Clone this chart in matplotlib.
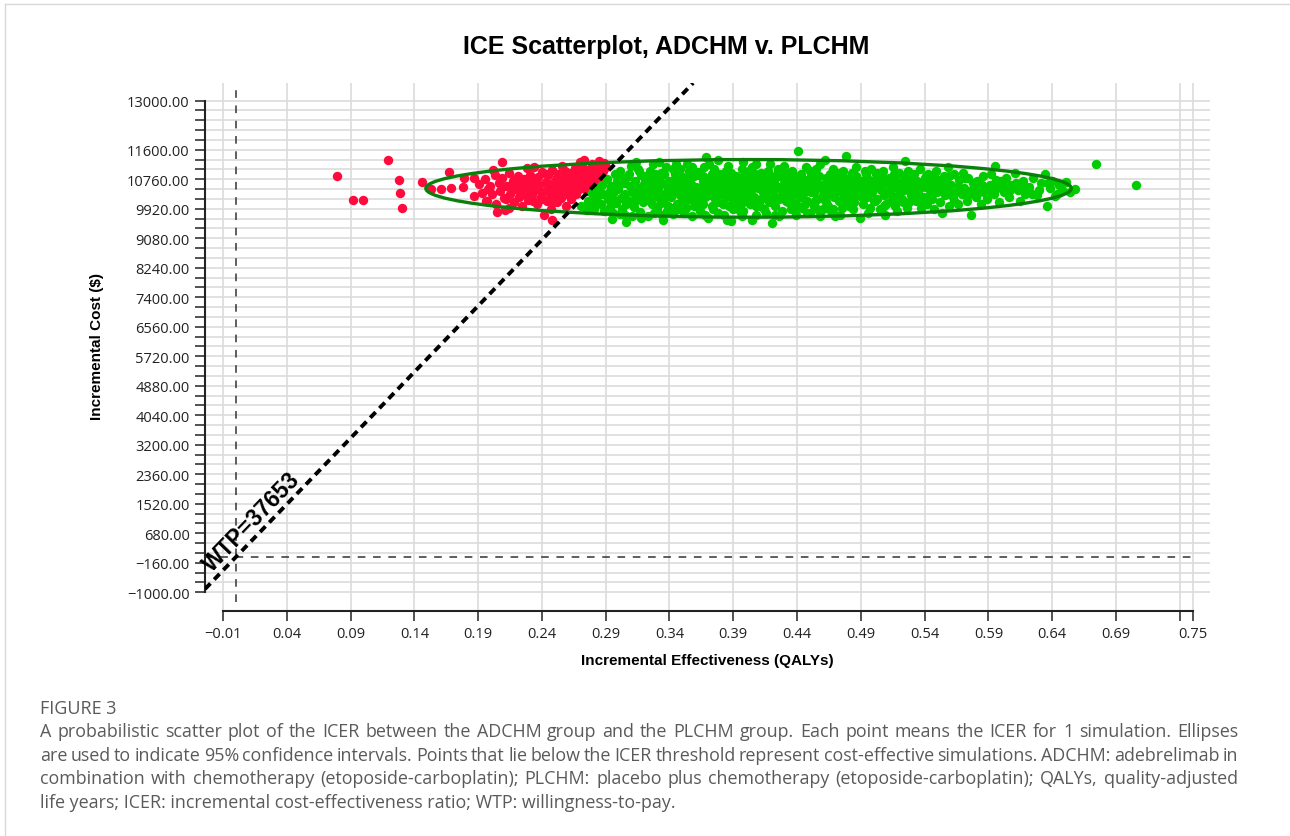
import matplotlib.pyplot as plt
import numpy as np
from matplotlib.patches import Ellipse
from matplotlib.lines import Line2D

# === Simulation results (QALY, cost $) ===
# not cost-effective simulations (above the WTP line)
red_pts = [
    (0.079, 10850), (0.092, 10170), (0.100, 10160), (0.119, 11300), (0.128, 10730),
    (0.129, 10370), (0.130, 9940), (0.146, 10690), (0.153, 10470), (0.161, 10480),
    (0.167, 10980), (0.169, 10520), (0.178, 10530), (0.179, 10800), (0.187, 10790),
    (0.187, 10290), (0.197, 10140), (0.198, 10490), (0.202, 11010), (0.209, 11260),
    (0.205, 9840), (0.214, 9940),
    (0.191, 10620), (0.193, 10380), (0.195, 10760), (0.196, 10150), (0.199, 10560),
    (0.201, 10330), (0.203, 10880), (0.204, 10050), (0.206, 10650), (0.207, 10420),
    (0.209, 10790), (0.210, 10240), (0.211, 9880), (0.212, 10560), (0.214, 10950),
    (0.215, 10350), (0.217, 10700), (0.218, 10120), (0.219, 10480), (0.221, 10860),
    (0.222, 10250), (0.223, 10600), (0.224, 9990), (0.226, 10770), (0.227, 10400),
    (0.228, 11080), (0.229, 10180), (0.230, 10560), (0.231, 10880), (0.232, 10320),
    (0.233, 10700), (0.234, 11100), (0.235, 10470), (0.236, 10060), (0.237, 10820),
    (0.238, 10590), (0.239, 10250), (0.240, 10960), (0.241, 10390), (0.242, 9750),
    (0.243, 10680), (0.244, 10150), (0.245, 10870), (0.246, 10520), (0.247, 9920),
    (0.248, 9600), (0.248, 11020), (0.249, 10300), (0.250, 10720), (0.251, 10440),
    (0.252, 10100), (0.253, 10900), (0.254, 10600), (0.255, 10230), (0.256, 11150),
    (0.257, 10790), (0.258, 10380), (0.259, 10010), (0.260, 10680), (0.261, 10950),
    (0.262, 10500), (0.263, 10200), (0.264, 10830), (0.265, 10620), (0.266, 11080),
    (0.267, 10350), (0.268, 10740), (0.269, 10480), (0.270, 11240), (0.271, 10900),
    (0.272, 10600), (0.273, 11320), (0.274, 10770), (0.275, 10420), (0.276, 11010),
    (0.277, 10650), (0.278, 10880), (0.279, 11180), (0.280, 10560), (0.281, 10790),
    (0.282, 11090), (0.283, 10700), (0.284, 10950), (0.285, 11280), (0.286, 10830),
    (0.287, 11150), (0.288, 11000), (0.289, 11220), (0.290, 11100),
    (0.229, 10730), (0.236, 10620), (0.244, 10440), (0.247, 10260), (0.252, 10830),
    (0.257, 10550), (0.261, 10300), (0.266, 10800), (0.269, 10620), (0.273, 10950),
    (0.258, 11000), (0.263, 10420), (0.240, 10200), (0.255, 10680), (0.271, 10520),
    (0.278, 10640), (0.245, 10620), (0.232, 10480), (0.225, 10330), (0.219, 10780),
    (0.249, 10110), (0.254, 10360),
    (0.243, 10900), (0.246, 10350), (0.251, 10600), (0.253, 10250), (0.256, 10460),
    (0.259, 10850), (0.262, 10700), (0.264, 10420), (0.267, 10950), (0.270, 10750),
    (0.272, 11080), (0.274, 10560), (0.276, 10850), (0.279, 10950), (0.281, 11000),
    (0.238, 10450), (0.235, 10780), (0.233, 10150), (0.227, 10600), (0.221, 10450),
    (0.216, 10600), (0.212, 10200),
]

# cost-effective simulations (below the WTP line)
green_pts = [
    (0.271, 10010), (0.278, 9960), (0.276, 10150), (0.279, 10380), (0.275, 9870),
    (0.281, 9920), (0.283, 10250), (0.284, 10480), (0.286, 10060), (0.287, 10610),
    (0.289, 9850), (0.282, 10130), (0.288, 10350),
    (0.291, 10780), (0.292, 10200), (0.293, 9980), (0.294, 10560), (0.295, 9640),
    (0.296, 10380), (0.297, 10900), (0.298, 10090), (0.299, 10700), (0.296, 9800),
    (0.300, 10480), (0.301, 11000), (0.302, 10230), (0.303, 9900), (0.304, 10640),
    (0.305, 10350), (0.306, 9540), (0.307, 10820), (0.308, 10130), (0.309, 10560),
    (0.310, 11150), (0.305, 9750),
    (0.311, 10400), (0.312, 9960), (0.313, 10700), (0.314, 10250), (0.315, 11050),
    (0.316, 10520), (0.317, 9830), (0.318, 10880), (0.319, 10100), (0.320, 10620),
    (0.314, 11250), (0.318, 10350),
    (0.321, 10780), (0.322, 10200), (0.323, 9700), (0.324, 10450), (0.325, 11000),
    (0.326, 10050), (0.327, 10680), (0.328, 10300), (0.329, 10900), (0.330, 9900),
    (0.322, 10560), (0.327, 11200), (0.325, 10150),
    (0.331, 10520), (0.332, 10800), (0.333, 10080), (0.334, 10650), (0.335, 9600),
    (0.336, 10350), (0.337, 11100), (0.338, 9850), (0.339, 10450), (0.340, 10720),
    (0.333, 10950), (0.336, 10200), (0.339, 10000), (0.332, 11250),
    (0.341, 10250), (0.342, 10600), (0.343, 9780), (0.344, 10900), (0.345, 10400),
    (0.346, 10050), (0.347, 10750), (0.348, 11050), (0.349, 10550), (0.350, 10150),
    (0.343, 10480), (0.347, 9900), (0.349, 10850), (0.345, 11200), (0.341, 10700),
    (0.351, 10350), (0.352, 10700), (0.353, 9950), (0.354, 10500), (0.355, 11000),
    (0.356, 10200), (0.357, 10620), (0.358, 9700), (0.359, 10850), (0.360, 10420),
    (0.352, 10100), (0.355, 10780), (0.358, 10300), (0.354, 11200), (0.359, 10000),
    (0.356, 10950),
    (0.361, 10550), (0.362, 10150), (0.363, 10880), (0.364, 9850), (0.365, 10400),
    (0.366, 10700), (0.367, 11100), (0.368, 10250), (0.369, 10600), (0.370, 9650),
    (0.362, 10980), (0.364, 10350), (0.366, 10050), (0.368, 10800), (0.369, 11380),
    (0.363, 10500), (0.367, 10450),
    (0.371, 10300), (0.372, 10750), (0.373, 10000), (0.374, 10550), (0.375, 11050),
    (0.376, 10200), (0.377, 10650), (0.378, 9800), (0.379, 10900), (0.380, 10400),
    (0.372, 10500), (0.374, 9900), (0.376, 10850), (0.378, 10100), (0.371, 11200),
    (0.379, 10600), (0.375, 10350),
    (0.381, 10700), (0.382, 10050), (0.383, 10500), (0.384, 11000), (0.385, 9600),
    (0.386, 10300), (0.387, 10800), (0.388, 9580), (0.389, 10450), (0.390, 10150),
    (0.382, 10900), (0.384, 10250), (0.386, 11150), (0.388, 10650), (0.390, 9900),
    (0.383, 10600), (0.387, 10000),
    (0.391, 10550), (0.392, 10850), (0.393, 10200), (0.394, 10700), (0.395, 9850),
    (0.396, 10400), (0.397, 11050), (0.398, 10100), (0.399, 10600), (0.400, 10950),
    (0.392, 10350), (0.394, 9950), (0.396, 10800), (0.398, 11250), (0.393, 10500),
    (0.399, 10250), (0.397, 9700),
    (0.401, 10450), (0.402, 10750), (0.403, 10050), (0.404, 10600), (0.405, 11100),
    (0.406, 10250), (0.407, 10900), (0.408, 9750), (0.409, 10500), (0.410, 10150),
    (0.402, 11000), (0.404, 10350), (0.406, 10700), (0.408, 10000), (0.410, 10800),
    (0.405, 9600),
    (0.411, 10550), (0.412, 10200), (0.413, 10850), (0.414, 9900), (0.415, 10450),
    (0.416, 10650), (0.417, 11000), (0.418, 10100), (0.419, 10750), (0.420, 9500),
    (0.412, 10950), (0.414, 10300), (0.416, 9800), (0.418, 10550), (0.419, 11200),
    (0.413, 10400),
    (0.421, 10350), (0.422, 10700), (0.423, 10000), (0.424, 10550), (0.425, 11050),
    (0.426, 10200), (0.427, 10850), (0.428, 9850), (0.429, 10450), (0.430, 10650),
    (0.422, 10150), (0.424, 10900), (0.426, 9700), (0.428, 10300), (0.430, 11150),
    (0.427, 10550),
    (0.431, 10400), (0.432, 10800), (0.433, 10100), (0.434, 10600), (0.435, 9900),
    (0.436, 11000), (0.437, 10300), (0.438, 10700), (0.439, 9750), (0.440, 10500),
    (0.433, 10950), (0.435, 10200), (0.437, 10850), (0.439, 10050), (0.441, 11560),
    (0.434, 10450),
    (0.441, 10650), (0.442, 10250), (0.443, 10900), (0.444, 9950), (0.445, 10550),
    (0.446, 10750), (0.447, 11100), (0.448, 10150), (0.449, 10450), (0.450, 9800),
    (0.442, 10800), (0.444, 10350), (0.446, 10050), (0.448, 10650), (0.450, 11000),
    (0.451, 10400), (0.452, 10700), (0.453, 10000), (0.454, 10550), (0.455, 11050),
    (0.456, 10200), (0.457, 10850), (0.458, 9700), (0.459, 10500), (0.460, 10300),
    (0.452, 10950), (0.454, 10150), (0.456, 10650), (0.458, 11200), (0.460, 9900),
    (0.461, 10600), (0.462, 11320), (0.463, 10100), (0.464, 10750), (0.465, 10350),
    (0.466, 10900), (0.467, 9850), (0.468, 10500), (0.469, 10250), (0.470, 10700),
    (0.462, 10450), (0.464, 10000), (0.466, 10600), (0.468, 11050), (0.470, 9700),
    (0.471, 10400), (0.472, 10850), (0.473, 10150), (0.474, 10600), (0.475, 9950),
    (0.476, 11000), (0.477, 10300), (0.478, 11430), (0.479, 10700), (0.480, 10050),
    (0.472, 10500), (0.474, 9750), (0.476, 10800), (0.478, 10250), (0.480, 10550),
    (0.481, 10800), (0.482, 10200), (0.483, 10650), (0.484, 9900), (0.485, 10450),
    (0.486, 11100), (0.487, 10350), (0.488, 10750), (0.489, 9650), (0.490, 10550),
    (0.483, 10950), (0.485, 10100), (0.487, 10600), (0.489, 10300),
    (0.491, 10700), (0.492, 10050), (0.493, 10500), (0.494, 10900), (0.495, 10250),
    (0.496, 9800), (0.497, 10650), (0.498, 11050), (0.499, 10400), (0.500, 10150),
    (0.493, 10350), (0.495, 10800), (0.497, 9950), (0.499, 10600),
    (0.501, 10550), (0.502, 10900), (0.503, 10200), (0.504, 10750), (0.505, 9900),
    (0.506, 10450), (0.507, 11000), (0.508, 10300), (0.509, 10650), (0.510, 10050),
    (0.503, 10600), (0.506, 10850), (0.509, 9750),
    (0.511, 10400), (0.512, 10800), (0.513, 10100), (0.514, 10600), (0.515, 11100),
    (0.516, 10250), (0.517, 10700), (0.518, 9850), (0.519, 10500), (0.520, 10950),
    (0.514, 10350), (0.517, 10000),
    (0.521, 10650), (0.522, 10200), (0.523, 10850), (0.524, 10450), (0.525, 11290),
    (0.526, 9950), (0.527, 10550), (0.528, 10800), (0.529, 10300), (0.530, 10650),
    (0.523, 10100), (0.527, 11000),
    (0.531, 10450), (0.532, 10900), (0.533, 10150), (0.534, 10700), (0.535, 10350),
    (0.536, 11050), (0.537, 9950), (0.538, 10600), (0.539, 10250), (0.540, 10800),
    (0.534, 10500),
    (0.541, 10550), (0.542, 10050), (0.543, 10900), (0.544, 10350), (0.545, 10700),
    (0.546, 10200), (0.547, 9900), (0.548, 10600), (0.549, 11000), (0.550, 10400),
    (0.551, 10750), (0.552, 10100), (0.553, 10500), (0.554, 9800), (0.555, 10850),
    (0.556, 10300), (0.557, 10650), (0.558, 11100), (0.559, 10000), (0.560, 10450),
    (0.561, 10600), (0.562, 10250), (0.563, 10900), (0.564, 10400), (0.566, 10050),
    (0.567, 10750), (0.569, 10350), (0.570, 10950),
    (0.571, 10500), (0.573, 10150), (0.574, 10800), (0.576, 9745), (0.577, 10450),
    (0.578, 10650), (0.580, 10250),
    (0.581, 10700), (0.583, 10400), (0.584, 10050), (0.586, 10850), (0.587, 10550),
    (0.589, 10200),
    (0.591, 10600), (0.592, 10900), (0.594, 10350), (0.595, 11150), (0.597, 10500),
    (0.598, 10100), (0.600, 10700),
    (0.602, 10400), (0.604, 10800), (0.606, 10250), (0.608, 10600), (0.611, 10950),
    (0.613, 10450), (0.615, 10150), (0.617, 10700), (0.619, 10350),
    (0.622, 10550), (0.625, 10800), (0.628, 10300), (0.631, 10650), (0.634, 10900),
    (0.636, 9990), (0.638, 10500), (0.640, 10700), (0.642, 10280), (0.645, 10600),
    (0.648, 10450), (0.651, 10690), (0.654, 10400), (0.658, 10470),
    (0.674, 11200), (0.706, 10610),
    (0.293, 10420), (0.297, 10150), (0.301, 9760), (0.303, 10780), (0.306, 10050),
    (0.308, 10900), (0.311, 9700), (0.313, 10150), (0.316, 11000), (0.318, 9650),
    (0.321, 10380), (0.323, 10880), (0.326, 10550), (0.328, 9800), (0.331, 10250),
    (0.334, 9750), (0.336, 10900), (0.338, 10580), (0.341, 9950), (0.343, 11050),
    (0.346, 10600), (0.348, 10300), (0.351, 9800), (0.353, 10800), (0.356, 10450),
    (0.358, 11100), (0.361, 10000), (0.363, 10250), (0.366, 10850), (0.368, 9750),
    (0.371, 10600), (0.373, 10900), (0.376, 10500), (0.378, 11300), (0.381, 10350),
    (0.383, 9750), (0.386, 10550), (0.388, 10950), (0.391, 10050), (0.393, 10700),
    (0.396, 10250), (0.398, 9850), (0.401, 10800), (0.403, 10300), (0.406, 10550),
    (0.408, 11200), (0.411, 10000), (0.413, 10650), (0.416, 10300), (0.418, 10850),
    (0.421, 10550), (0.423, 9750), (0.426, 10500), (0.428, 11000), (0.431, 10150),
    (0.433, 10500), (0.436, 10750), (0.438, 9950), (0.441, 10350), (0.443, 10600),
    (0.446, 10400), (0.448, 9800), (0.451, 10850), (0.453, 10400), (0.456, 9900),
    (0.458, 10600), (0.461, 10200), (0.463, 10800), (0.466, 10350), (0.468, 9900),
    (0.471, 10650), (0.473, 10950), (0.476, 10150), (0.478, 10450), (0.481, 10000),
    (0.483, 10300), (0.486, 10850), (0.488, 10500), (0.491, 10250), (0.493, 11000),
    (0.496, 10500), (0.498, 10700), (0.501, 10150), (0.503, 10950), (0.506, 10600),
    (0.508, 10000), (0.511, 10700), (0.513, 10450), (0.516, 10900), (0.518, 10200),
    (0.521, 10400), (0.523, 10650), (0.526, 10750), (0.528, 10100), (0.531, 10700),
    (0.533, 10300), (0.536, 10500), (0.538, 10050), (0.541, 10850), (0.543, 10200),
    (0.546, 10500), (0.548, 10800), (0.552, 10650), (0.556, 10500), (0.559, 10850),
    (0.563, 10150), (0.566, 10550), (0.572, 10800), (0.575, 10350), (0.579, 10550),
    (0.585, 10600), (0.588, 10350), (0.593, 10450), (0.596, 10750), (0.603, 10550),
    (0.607, 10450), (0.612, 10650), (0.618, 10550), (0.624, 10350), (0.630, 10450),
    (0.637, 10650), (0.644, 10350),
]

wtp = 37653                      # willingness-to-pay threshold ($/QALY)
ci_center = (0.402, 10500)       # 95% confidence ellipse
ci_width = 0.506
ci_height = 1640

x_ticks = [-0.01, 0.04, 0.09, 0.14, 0.19, 0.24, 0.29, 0.34, 0.39, 0.44,
           0.49, 0.54, 0.59, 0.64, 0.69, 0.74, 0.75]
x_labels = ["\u22120.01", "0.04", "0.09", "0.14", "0.19", "0.24", "0.29", "0.34",
            "0.39", "0.44", "0.49", "0.54", "0.59", "0.64", "0.69", "", "0.75"]
y_ticks = [-1000, -160, 680, 1520, 2360, 3200, 4040, 4880, 5720, 6560,
           7400, 8240, 9080, 9920, 10760, 11600, 13000]
y_labels = [f"{v:.2f}".replace("-", "\u2212") for v in y_ticks]

caption_lines = [
    "A probabilistic scatter plot of the ICER between the ADCHM group and the PLCHM group. Each point means the ICER for 1 simulation. Ellipses",
    "are used to indicate 95% confidence intervals. Points that lie below the ICER threshold represent cost-effective simulations. ADCHM: adebrelimab in",
    "combination with chemotherapy (etoposide-carboplatin); PLCHM: placebo plus chemotherapy (etoposide-carboplatin); QALYs, quality-adjusted",
    "life years; ICER: incremental cost-effectiveness ratio; WTP: willingness-to-pay.",
]

# === Figure ===
W, H = 1290, 837
fig = plt.figure(figsize=(W / 100, H / 100), dpi=100)
ax = fig.add_axes([205 / W, 1 - 612 / H, 1005 / W, 528 / H])
ax.set_xlim(-0.0241, 0.7637)
ax.set_ylim(-1533, 13500)

grid_c = "#dcdcdc"
ax.hlines(np.arange(-1000, 13001, 280), -0.0241, 0.7637, color=grid_c, lw=1.2, zorder=0)
ax.vlines(x_ticks, -1533, 13500, color=grid_c, lw=1.2, zorder=0)

rx, ry = zip(*red_pts)
gx, gy = zip(*green_pts)
ax.scatter(rx, ry, s=46, color="#ff0a3c", linewidths=0, zorder=2)
ax.scatter(gx, gy, s=46, color="#00cc00", linewidths=0, zorder=2)

ax.add_patch(Ellipse(ci_center, ci_width, ci_height, fill=False,
                     edgecolor="#0a800a", lw=2.4, zorder=3))

ax.axhline(0, xmin=0, xmax=0.985, color="#333333", lw=1.1, ls=(0, (5, 5)), zorder=1)
ax.axvline(0, ymin=0.017, ymax=0.989, color="#333333", lw=1.1, ls=(0, (5, 5)), zorder=1)
ax.axline((0, 0), slope=wtp, color="black", lw=2.8, ls=(0, (2, 1.4)),
          dash_capstyle="butt", zorder=4)
ax.text(0.0127, 1030, f"WTP={wtp}", rotation=46, rotation_mode="anchor",
        ha="center", va="center", fontsize=16.5, fontweight="bold",
        family="Liberation Sans", zorder=5)

# === Axes styling ===
for s in ["top", "right"]:
    ax.spines[s].set_visible(False)
ax.spines["left"].set_bounds(-1000, 13000)
ax.spines["bottom"].set_bounds(-0.01, 0.75)
for s in ["left", "bottom"]:
    ax.spines[s].set_linewidth(1.5)
    ax.spines[s].set_color("#222222")

ax.set_xticks(x_ticks)
ax.set_xticklabels(x_labels)
ax.set_yticks(y_ticks)
ax.set_yticklabels(y_labels)
ax.set_yticks(np.arange(-1000, 13001, 280), minor=True)
ax.tick_params(axis="both", which="both", direction="out", length=7, width=1.1,
               color="#222222", labelsize=10.5, labelcolor="#222222")
ax.tick_params(axis="y", pad=4)
ax.tick_params(axis="x", pad=4)
for lab in ax.get_xticklabels() + ax.get_yticklabels():
    lab.set_family("Open Sans")

fig.text(666 / W, 1 - 47 / H, "ICE Scatterplot, ADCHM v. PLCHM", ha="center",
         va="center", fontsize=18, fontweight="bold", family="Liberation Sans")
fig.text(707 / W, 1 - 661 / H, "Incremental Effectiveness (QALYs)", ha="center",
         va="center", fontsize=11, fontweight="bold", family="Liberation Sans")
fig.text(97 / W, 1 - 346 / H, "Incremental Cost ($)", ha="center", va="center",
         rotation=90, fontsize=11, fontweight="bold", family="Liberation Sans")

# === Caption (justified like the journal page) and page frame ===
cap_kw = dict(va="center", fontsize=12.9, color="#5a5a5a", family="Open Sans")
fig.text(40 / W, 1 - 709 / H, "FIGURE 3", ha="left", va="center", fontsize=13,
         color="#5a5a5a", family="Open Sans")
fig.canvas.draw()
renderer = fig.canvas.get_renderer()
left_px, right_px = 40, 1238
for i, line in enumerate(caption_lines):
    y = 1 - (732 + 23.6 * i) / H
    if i == len(caption_lines) - 1:
        fig.text(left_px / W, y, line, ha="left", **cap_kw)
        continue
    words = line.split(" ")
    texts = [fig.text(0, y, w, ha="left", **cap_kw) for w in words]
    widths = [t.get_window_extent(renderer).width for t in texts]
    gap = (right_px - left_px - sum(widths)) / (len(words) - 1)
    xpos = left_px
    for t, w in zip(texts, widths):
        t.set_x(xpos / W)
        xpos += w + gap

fig.add_artist(Line2D([5 / W, 5 / W], [0, 1 - 5 / H], transform=fig.transFigure,
                      color="#d8d8d8", lw=1))
fig.add_artist(Line2D([5 / W, 1], [1 - 5 / H, 1 - 5 / H], transform=fig.transFigure,
                      color="#d8d8d8", lw=1))

fig.savefig("out.png", dpi=100)
